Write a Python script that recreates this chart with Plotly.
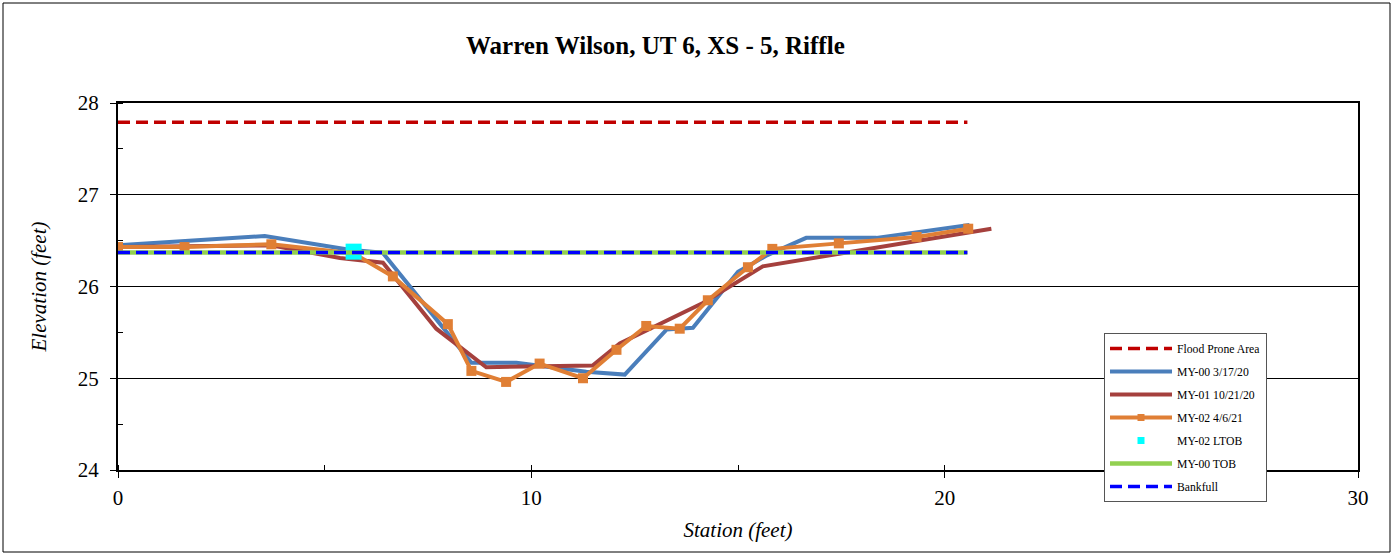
import plotly.graph_objects as go

# ---- data ----
fpa_x = [0, 20.55]
fpa_y = [27.79, 27.79]

my00_x = [0, 3.55, 5.6, 6.4, 7.85, 8.55, 9.64, 11.33, 12.26, 13.27, 13.91, 15.0, 15.7, 16.65, 18.35, 20.6]
my00_y = [26.45, 26.55, 26.4, 26.37, 25.56, 25.17, 25.17, 25.07, 25.04, 25.53, 25.55, 26.16, 26.34, 26.53, 26.53, 26.67]

my01_x = [0, 3.7, 5.37, 6.41, 7.70, 8.91, 11.49, 12.14, 14.15, 15.6, 21.13]
my01_y = [26.43, 26.45, 26.31, 26.26, 25.54, 25.12, 25.14, 25.38, 25.82, 26.22, 26.63]

my02_x = [0, 1.61, 3.71, 5.7, 6.65, 7.98, 8.55, 9.39, 10.2, 11.25, 12.06, 12.78, 13.59, 14.27, 15.24, 15.83, 17.44, 19.32, 20.57]
my02_y = [26.43, 26.43, 26.46, 26.36, 26.11, 25.59, 25.08, 24.96, 25.16, 25.0, 25.31, 25.57, 25.54, 25.85, 26.21, 26.41, 26.47, 26.54, 26.63]

ltob_x = [5.7]
ltob_y = [26.38]

tob_x = [0, 20.55]
tob_y = [26.37, 26.37]

bkf_x = [0, 20.55]
bkf_y = [26.37, 26.37]

x_ticks = [0, 10, 20, 30]
y_ticks = [24, 25, 26, 27, 28]

FONT = "Liberation Serif, Times New Roman, serif"
ORANGE = "#E07F35"

fig = go.Figure()
fig.add_trace(go.Scatter(x=fpa_x, y=fpa_y, mode="lines", name="Flood Prone Area",
                         line=dict(color="#C00000", width=3.5, dash="12px,6px"), legendgroup="a"))
fig.add_trace(go.Scatter(x=my00_x, y=my00_y, mode="lines", name="MY-00 3/17/20",
                         line=dict(color="#4A7EBB", width=4), legendgroup="b"))
fig.add_trace(go.Scatter(x=my01_x, y=my01_y, mode="lines", name="MY-01 10/21/20",
                         line=dict(color="#A5403D", width=4), legendgroup="c"))
fig.add_trace(go.Scatter(x=my02_x, y=my02_y, mode="lines+markers", name="MY-02 4/6/21",
                         line=dict(color=ORANGE, width=4),
                         marker=dict(symbol="square", size=10, color=ORANGE),
                         legendgroup="d", showlegend=False))
# legend-only entry with smaller marker
fig.add_trace(go.Scatter(x=[None], y=[None], mode="lines+markers", name="MY-02 4/6/21",
                         line=dict(color=ORANGE, width=4),
                         marker=dict(symbol="square", size=7, color=ORANGE), legendgroup="d"))
fig.add_trace(go.Scatter(x=ltob_x, y=ltob_y, mode="markers", name="MY-02 LTOB",
                         marker=dict(symbol="square", size=16, color="#00FFFF"),
                         legendgroup="e", showlegend=False))
fig.add_trace(go.Scatter(x=[None], y=[None], mode="markers", name="MY-02 LTOB",
                         marker=dict(symbol="square", size=7, color="#00FFFF"), legendgroup="e"))
fig.add_trace(go.Scatter(x=tob_x, y=tob_y, mode="lines", name="MY-00 TOB",
                         line=dict(color="#92D050", width=4.5), legendgroup="f"))
fig.add_trace(go.Scatter(x=bkf_x, y=bkf_y, mode="lines", name="Bankfull",
                         line=dict(color="#0000FF", width=3.5, dash="12px,6px"), legendgroup="g"))

L, R, T, B = 118, 35, 103, 85
PW = 1393 - L - R
PH = 555 - T - B

fig.update_layout(
    width=1393, height=555,
    margin=dict(l=L, r=R, t=T, b=B),
    paper_bgcolor="white", plot_bgcolor="white",
    font=dict(family=FONT, color="black", size=20),
    showlegend=True,
    legend=dict(
        x=(1104 - L) / PW, y=(555 - B - 333) / PH, xanchor="left", yanchor="top",
        bordercolor="#555555", borderwidth=1, bgcolor="white",
        font=dict(family=FONT, size=11.7, color="black"),
        tracegroupgap=4, itemwidth=62,
    ),
    annotations=[
        dict(text="<b>Warren Wilson, UT 6, XS - 5, Riffle</b>", xref="paper", yref="paper",
             x=(655 - L) / PW, y=(555 - B - 45) / PH, xanchor="center", yanchor="middle",
             showarrow=False, font=dict(family=FONT, size=25, color="black")),
    ],
    shapes=[
        dict(type="rect", xref="paper", yref="paper",
             x0=(3 - L) / PW, x1=(1390 - L) / PW,
             y0=(555 - B - 552) / PH, y1=(555 - B - 3) / PH,
             line=dict(color="black", width=1), layer="below"),
    ],
)

fig.update_xaxes(
    range=[0, 30], tickvals=x_ticks, ticktext=[str(v) for v in x_ticks],
    showgrid=False, zeroline=False,
    showline=True, linecolor="black", linewidth=2, mirror=True,
    ticks="outside", ticklen=6, tickcolor="black", tickwidth=1,
    minor=dict(dtick=5, ticks="inside", ticklen=5, tickcolor="black", showgrid=False),
    tickfont=dict(family=FONT, size=21), ticklabelstandoff=2,
    title=dict(text="<i>Station (feet)</i>", font=dict(family=FONT, size=21), standoff=13),
)
fig.update_yaxes(
    range=[24, 28], tickvals=y_ticks, ticktext=[str(v) for v in y_ticks],
    showgrid=True, gridcolor="black", gridwidth=1, zeroline=False,
    showline=True, linecolor="black", linewidth=2, mirror=True,
    ticks="outside", ticklen=6, tickcolor="black", tickwidth=1,
    minor=dict(dtick=0.5, ticks="inside", ticklen=5, tickcolor="black", showgrid=False),
    tickfont=dict(family=FONT, size=21), ticklabelstandoff=7,
    title=dict(text="<i>Elevation (feet)</i>", font=dict(family=FONT, size=21), standoff=25),
)

fig.write_html("out.html", config={"displayModeBar": False},
               post_script="document.body.style.margin='0';document.body.style.padding='0';")
